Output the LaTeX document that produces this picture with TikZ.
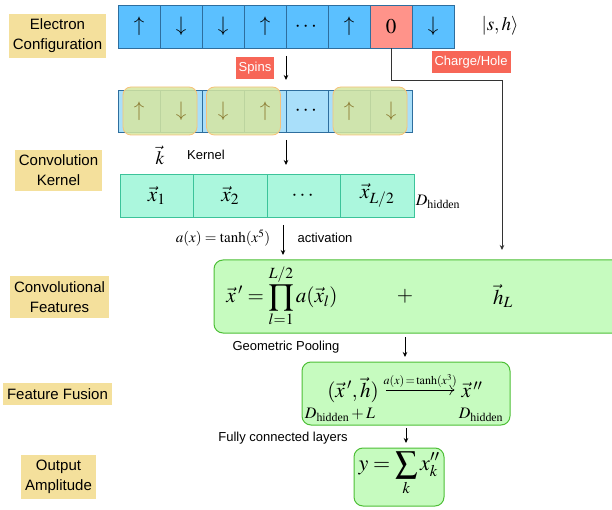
\documentclass[tikz,border=0pt]{standalone}
\usepackage{amsmath}
\usepackage{mathptmx}
\usepackage{fontspec}
\setmainfont{Liberation Serif}
\setsansfont{Liberation Sans}
\usetikzlibrary{arrows.meta,positioning}

\definecolor{stagebg}{HTML}{F4E09C}
\definecolor{spinblue}{HTML}{5BC0FF}
\definecolor{spinedge}{HTML}{2E6E9E}
\definecolor{holered}{HTML}{FF938A}
\definecolor{tagred}{HTML}{F76657}
\definecolor{paleblue}{HTML}{A9DFFA}
\definecolor{kernfill}{HTML}{D6E6A0}
\definecolor{kernedge}{HTML}{F7C27A}
\definecolor{olive}{HTML}{8A7A30}
\definecolor{hidfill}{HTML}{ABF7DD}
\definecolor{hidedge}{HTML}{3CC39A}
\definecolor{featfill}{HTML}{C6FBBF}
\definecolor{featedge}{HTML}{4DBF36}

\tikzset{
  stage/.style={fill=stagebg, font=\sffamily\fontsize{15}{20}\selectfont, align=center, inner xsep=4pt, inner ysep=5pt},
  tag/.style={fill=tagred, text=white, font=\sffamily\fontsize{13}{15}\selectfont, inner xsep=3pt, inner ysep=4.5pt},
  note/.style={font=\sffamily\fontsize{13}{15}\selectfont, inner sep=0pt},
  spin/.style={draw=spinedge, fill=spinblue, minimum width=42pt, minimum height=43pt, inner sep=0pt, font=\fontsize{21}{21}\selectfont},
  pale/.style={spin, fill=paleblue, minimum height=42pt},
  kernbox/.style={draw=kernedge, line width=0.8pt, fill=kernfill, fill opacity=0.85, rounded corners=8pt, minimum width=74pt, minimum height=48pt},
  hid/.style={draw=hidedge, fill=hidfill, minimum width=73.5pt, minimum height=43pt, inner sep=0pt, font=\fontsize{21}{21}\selectfont},
  feat/.style={draw=featedge, line width=1pt, fill=featfill, rounded corners=9pt},
  mathtxt/.style={inner sep=0pt, font=\fontsize{21}{24}\selectfont},
  conn/.style={-{Stealth[length=5pt,width=4.5pt]}, line width=0.8pt}
}

\begin{document}
\begin{tikzpicture}[x=1pt,y=-1pt]
\useasboundingbox (0,0) rectangle (612,510);

\node[stage] (lconf) at (57.5,36) {Electron\\Configuration};
\node[stage] (lkern) at (58.5,170.5) {Convolution\\Kernel};
\node[stage] (lfeat) at (59.5,297) {Convolutional\\Features};
\node[stage] (lfuse) at (57.5,394) {Feature Fusion};
\node[stage] (lout) at (58.5,477) {Output\\Amplitude};

% configuration
\node[spin] (e1) at (139,26.5) {$\uparrow$};
\node[spin] (e2) at (181,26.5) {$\downarrow$};
\node[spin] (e3) at (223,26.5) {$\downarrow$};
\node[spin] (e4) at (265,26.5) {$\uparrow$};
\node[spin] (e5) at (307,26.5) {$\cdots$};
\node[spin] (e6) at (349,26.5) {$\uparrow$};
\node[spin, fill=holered] (e7) at (391,26.5) {$0$};
\node[spin] (e8) at (433,26.5) {$\downarrow$};
\node[mathtxt, font=\fontsize{19}{20}\selectfont] (ket) at (500,26) {$|s,h\rangle$};

\node[tag] (tspin) at (255,68) {Spins};
\node[tag] (thole) at (471,62) {Charge/Hole};

% spin chain
\node[pale] (k1) at (139,111) {};
\node[pale] (k2) at (181,111) {};
\node[pale] (k3) at (223,111) {};
\node[pale] (k4) at (265,111) {};
\node[pale] (k5) at (307,111) {$\cdots$};
\node[pale] (k6) at (349,111) {};
\node[pale] (k7) at (391,111) {};
\node[kernbox] (g1) at (160,111) {};
\node[kernbox] (g2) at (243.5,111) {};
\node[kernbox] (g3) at (370,111) {};
\node[mathtxt, text=olive] at (k1) {$\uparrow$};
\node[mathtxt, text=olive] at (k2) {$\downarrow$};
\node[mathtxt, text=olive] at (k3) {$\downarrow$};
\node[mathtxt, text=olive] at (k4) {$\uparrow$};
\node[mathtxt, text=olive] at (k6) {$\uparrow$};
\node[mathtxt, text=olive] at (k7) {$\downarrow$};

\node[mathtxt, font=\fontsize{19}{20}\selectfont] (kvec) at (160,155) {$\vec{k}$};
\node[note] (tkern) at (206,155) {Kernel};

% hidden vectors
\node[hid] (h1) at (156.75,195.5) {$\vec{x}_1$};
\node[hid] (h2) at (230.25,195.5) {$\vec{x}_2$};
\node[hid] (h3) at (303.75,195.5) {$\cdots$};
\node[hid] (h4) at (377.25,195.5) {$\vec{x}_{L/2}$};
\node[mathtxt, font=\fontsize{16}{18}\selectfont] (dh1) at (438,202) {$D_{\text{hidden}}$};

\node[mathtxt, font=\fontsize{15}{18}\selectfont] (act) at (223,238) {$a(x)=\tanh(x^5)$};
\node[note] (tact) at (325,238) {activation};

% features
\begin{scope}
\clip (0,0) rectangle (612,510);
\draw[feat] (214,260) rectangle (630,333);
\end{scope}
\node[mathtxt] (prod) at (282,296) {$\displaystyle \vec{x}\,'=\prod_{l=1}^{L/2}a(\vec{x}_l)$};
\node[mathtxt] (plus) at (405,296) {$+$};
\node[mathtxt] (hl) at (503,296) {$\vec{h}_L$};
\node[note] (tpool) at (286,347) {Geometric Pooling};

% fusion
\node[feat, minimum width=208pt, minimum height=63pt] (fuse) at (406,393.5) {};
\node[mathtxt] (pair) at (353,390) {$(\vec{x}\,',\vec{h})$};
\node[mathtxt] (xpp) at (472,390) {$\vec{x}\,''$};
\node[mathtxt, font=\fontsize{16}{18}\selectfont] (dh2) at (340,415) {$D_{\text{hidden}}+L$};
\node[mathtxt, font=\fontsize{16}{18}\selectfont] (dh3) at (481,415) {$D_{\text{hidden}}$};
\node[note] (tfc) at (283,438) {Fully connected layers};

% output
\node[feat, minimum width=90pt, minimum height=58pt] (outbox) at (399,477) {};
\node[mathtxt, font=\fontsize{22}{24}\selectfont] (amp) at (399,474) {$\displaystyle y=\sum_k x''_k$};

% connectors
\coordinate (s0) at (286,56);
\coordinate (s1) at (286,80);
\coordinate (bend) at (502,80);
\coordinate (hend) at (502,250);
\coordinate (c0) at (286,140);
\coordinate (c1) at (286,165);
\coordinate (a0) at (283,225);
\coordinate (a1) at (283,255);
\coordinate (p0) at (405,337);
\coordinate (p1) at (405,357);
\coordinate (f0) at (406,428);
\coordinate (f1) at (406,443);
\draw[conn] (s0) -- (s1);
\draw[conn, draw=black!80] (e7.south) |- (bend) -- (hend);
\draw[conn] (c0) -- (c1);
\draw[conn] (a0) -- (a1);
\draw[conn] (p0) -- (p1);
\draw[conn] (f0) -- (f1);
\draw[-{To[length=5pt]}, line width=0.6pt] ([xshift=7pt]pair.east) -- node[above=2pt, inner sep=0pt, font=\fontsize{12}{14}\selectfont] {$a(x)\!=\!\tanh(x^3)$} ([xshift=-7pt]xpp.west);
\end{tikzpicture}
\end{document}
